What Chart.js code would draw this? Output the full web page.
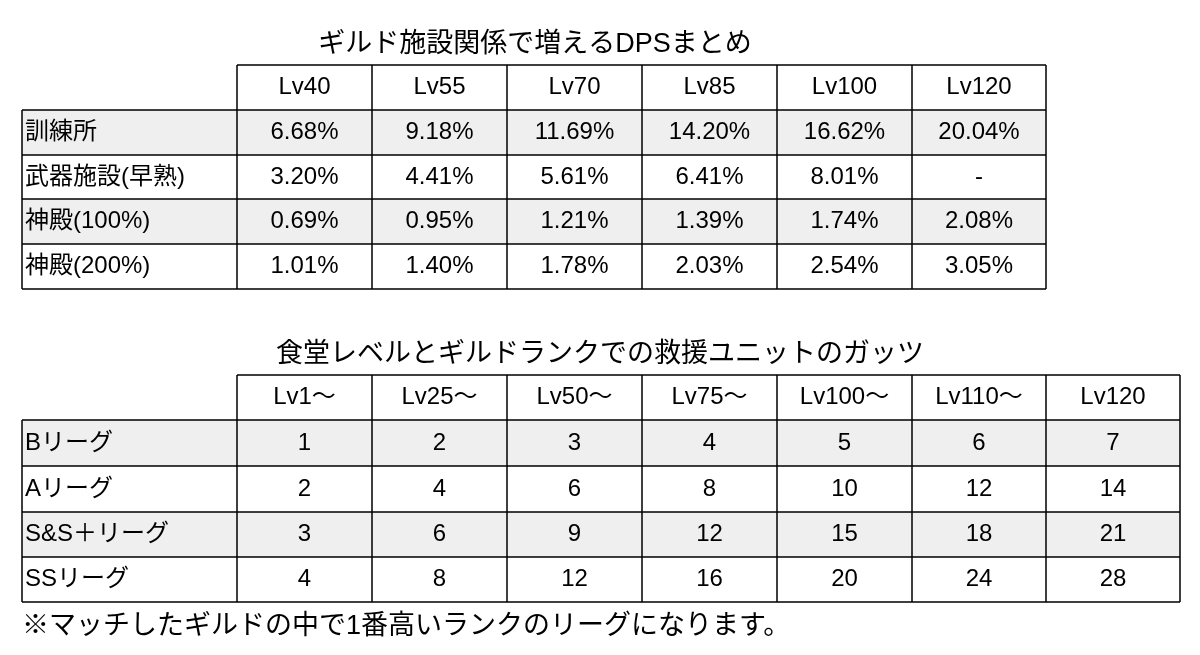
<!DOCTYPE html>
<html>
<head>
<meta charset="utf-8">
<script src="https://cdn.jsdelivr.net/npm/chart.js@4/dist/chart.umd.min.js"></script>
<style>
  html, body { margin: 0; padding: 0; background: #fff; }
  #wrap { width: 1200px; height: 655px; }
</style>
</head>
<body>
<div id="wrap"><canvas id="tableChart"></canvas></div>
<script>
'use strict';

// table 1 data
const title1 = 'ギルド施設関係で増えるDPSまとめ';
const levels1 = ['Lv40', 'Lv55', 'Lv70', 'Lv85', 'Lv100', 'Lv120'];
const facilities = ['訓練所', '武器施設(早熟)', '神殿(100%)', '神殿(200%)'];
const training = ['6.68%', '9.18%', '11.69%', '14.20%', '16.62%', '20.04%'];
const weapon = ['3.20%', '4.41%', '5.61%', '6.41%', '8.01%', '-'];
const temple100 = ['0.69%', '0.95%', '1.21%', '1.39%', '1.74%', '2.08%'];
const temple200 = ['1.01%', '1.40%', '1.78%', '2.03%', '2.54%', '3.05%'];

// table 2 data
const title2 = '食堂レベルとギルドランクでの救援ユニットのガッツ';
const levels2 = ['Lv1〜', 'Lv25〜', 'Lv50〜', 'Lv75〜', 'Lv100〜', 'Lv110〜', 'Lv120'];
const leagues = ['Bリーグ', 'Aリーグ', 'S&S＋リーグ', 'SSリーグ'];
const leagueB = [1, 2, 3, 4, 5, 6, 7];
const leagueA = [2, 4, 6, 8, 10, 12, 14];
const leagueS = [3, 6, 9, 12, 15, 18, 21];
const leagueSS = [4, 8, 12, 16, 20, 24, 28];
const footnote = '※マッチしたギルドの中で1番高いランクのリーグになります。';

// layout (in scale units)
const tables = [
  { title: title1, titleX: 535, titleY: 45, header: levels1, rowLabels: facilities,
    rows: [training, weapon, temple100, temple200],
    cols: [22, 237, 372, 507, 642, 777, 912, 1046],
    rowsY: [65, 110, 155, 199, 244, 289] },
  { title: title2, titleX: 600, titleY: 355, header: levels2, rowLabels: leagues,
    rows: [leagueB, leagueA, leagueS, leagueSS],
    cols: [22, 237, 372, 507, 642, 777, 912, 1046, 1180],
    rowsY: [375, 420, 466, 512, 557, 602] }
];

const FONT = '"Liberation Sans", "Noto Sans CJK JP", sans-serif';

const tablePlugin = {
  id: 'tablePlugin',
  afterDraw (chart) {
    const c = chart.ctx;
    const xs = chart.scales.x;
    const ys = chart.scales.y;
    const X = v => xs.getPixelForValue(v);
    const Y = v => ys.getPixelForValue(v);
    c.save();
    c.textBaseline = 'middle';
    tables.forEach(t => {
      c.fillStyle = '#000';
      c.font = '27px ' + FONT;
      c.textAlign = 'center';
      c.fillText(t.title, X(t.titleX), Y(t.titleY));
      // shading
      for (let r = 0; r < t.rows.length; r++) {
        if (r % 2 === 0) {
          c.fillStyle = '#efefef';
          c.fillRect(X(t.cols[0]), Y(t.rowsY[r + 1]), X(t.cols[t.cols.length - 1]) - X(t.cols[0]), Y(t.rowsY[r + 2]) - Y(t.rowsY[r + 1]));
        }
      }
      // text
      c.fillStyle = '#000';
      c.font = '24px ' + FONT;
      t.header.forEach((h, i) => {
        c.textAlign = 'center';
        c.fillText(h, X((t.cols[i + 1] + t.cols[i + 2]) / 2), Y((t.rowsY[0] + t.rowsY[1]) / 2));
      });
      t.rows.forEach((row, r) => {
        const cy = Y((t.rowsY[r + 1] + t.rowsY[r + 2]) / 2);
        c.textAlign = 'left';
        c.fillText(t.rowLabels[r], X(t.cols[0] + 3), cy);
        c.textAlign = 'center';
        row.forEach((v, i) => {
          c.fillText(String(v), X((t.cols[i + 1] + t.cols[i + 2]) / 2), cy);
        });
      });
      // grid
      c.strokeStyle = '#000';
      c.lineWidth = 1.5;
      c.beginPath();
      t.rowsY.forEach((ry, r) => {
        const x0 = r === 0 ? t.cols[1] : t.cols[0];
        c.moveTo(X(x0), Y(ry));
        c.lineTo(X(t.cols[t.cols.length - 1]), Y(ry));
      });
      t.cols.forEach((cx, i) => {
        const y0 = i === 0 ? t.rowsY[1] : t.rowsY[0];
        c.moveTo(X(cx), Y(y0));
        c.lineTo(X(cx), Y(t.rowsY[t.rowsY.length - 1]));
      });
      c.stroke();
    });
    c.fillStyle = '#000';
    c.textAlign = 'left';
    c.font = '27px ' + FONT;
    c.fillText(footnote, X(22), Y(627));
    c.restore();
  }
};

new Chart(document.getElementById('tableChart').getContext('2d'), {
  type: 'scatter',
  data: { datasets: [{ data: [] }] },
  options: {
    responsive: true,
    maintainAspectRatio: false,
    animation: false,
    layout: { padding: 0 },
    plugins: { legend: { display: false }, tooltip: { enabled: false } },
    scales: {
      x: { type: 'linear', min: 0, max: 1200, display: false },
      y: { type: 'linear', min: 0, max: 655, reverse: true, display: false }
    }
  },
  plugins: [tablePlugin]
});
</script>
</body>
</html>
